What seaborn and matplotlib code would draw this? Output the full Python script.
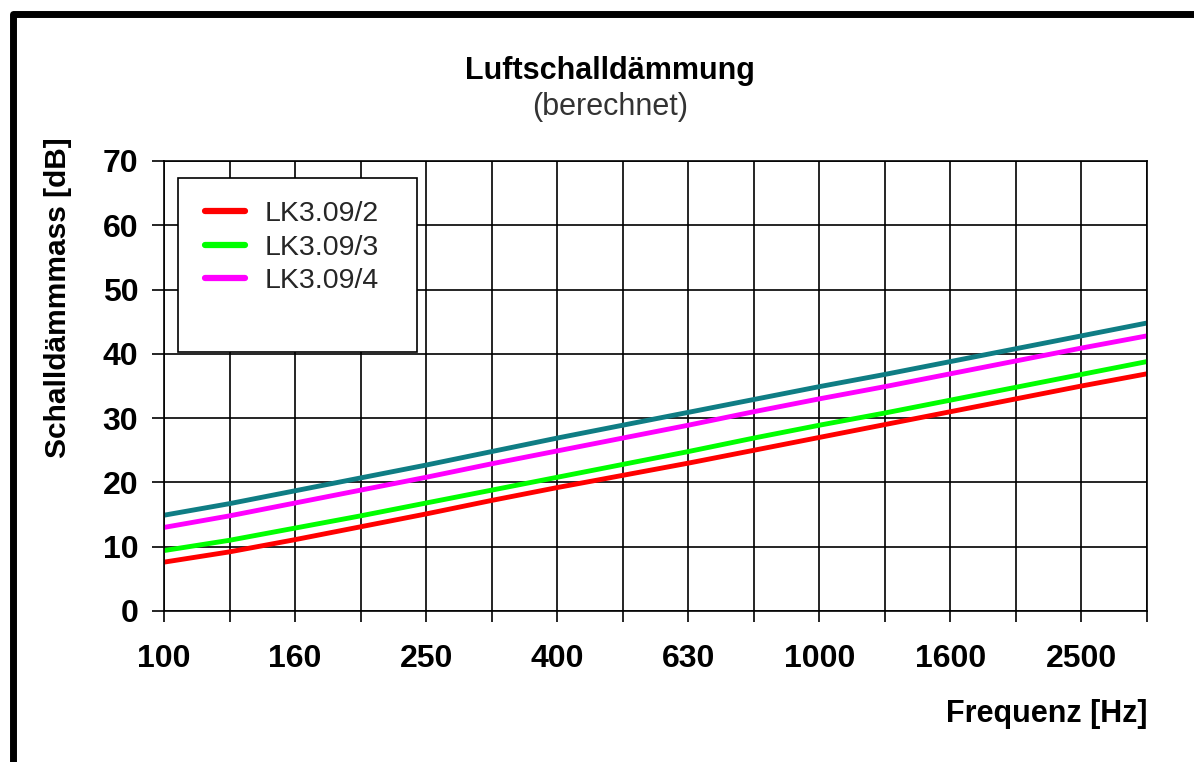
import pandas as pd
import numpy as np
import matplotlib
matplotlib.use("Agg")
import matplotlib.pyplot as plt
from matplotlib.lines import Line2D
from matplotlib.patches import Rectangle
import seaborn as sns

# Terzbaender 100 .. 3150 Hz
freq_labels = ["100", "125", "160", "200", "250", "315", "400", "500",
               "630", "800", "1000", "1250", "1600", "2000", "2500", "3150"]

# Schalldaemmmass je Terzband [dB]
r_lk2 = [7.6, 9.2, 11.1, 13.1, 15.1, 17.2, 19.2, 21.1, 23.0, 25.0, 27.0, 29.0, 31.0, 33.0, 35.0, 36.9]
r_lk3 = [9.4, 11.0, 12.9, 14.8, 16.8, 18.8, 20.8, 22.8, 24.8, 26.9, 28.9, 30.8, 32.8, 34.8, 36.8, 38.8]
r_lk4 = [13.0, 14.8, 16.8, 18.8, 20.8, 22.9, 24.9, 26.9, 28.9, 31.0, 33.0, 34.9, 36.9, 38.9, 40.9, 42.8]
r_ohne = [14.9, 16.7, 18.7, 20.7, 22.7, 24.8, 26.9, 28.9, 30.9, 32.9, 34.9, 36.8, 38.8, 40.8, 42.8, 44.8]

series_names = ["LK3.09/2", "LK3.09/3", "LK3.09/4", None]
series_values = [r_lk2, r_lk3, r_lk4, r_ohne]
series_colors = ["#ff0000", "#00ff00", "#ff00ff", "#0f7d84"]

sns.set_theme(style="white")
plt.rcParams['font.family'] = ['Liberation Sans', 'DejaVu Sans']

fig = plt.figure(figsize=(11.94, 7.62), dpi=100)
ax = fig.add_axes([164 / 1194, 1 - 611 / 762, 983 / 1194, 450 / 762])

band = np.arange(len(freq_labels))
for name, vals, col in zip(series_names, series_values, series_colors):
    df = pd.DataFrame({'band': band, 'R': vals})
    sns.lineplot(data=df, x='band', y='R', color=col, linewidth=3.5,
                 label=name, legend=False, ax=ax, zorder=2)

ax.set_xlim(0, len(freq_labels) - 1)
ax.set_ylim(0, 70)
ax.set_xticks(band)
ax.set_xticklabels([f if i % 2 == 0 else "" for i, f in enumerate(freq_labels)])
ax.set_yticks(range(0, 71, 10))
ax.set_xlabel("")
ax.set_ylabel("")

ax.grid(True, color='black', linewidth=1.2)
ax.set_axisbelow(True)
for sp in ax.spines.values():
    sp.set_color('black')
    sp.set_linewidth(1.2)

ax.tick_params(axis='both', direction='out', color='black', width=1.2,
               labelsize=23, labelcolor='black')
ax.tick_params(axis='x', length=8, pad=16, bottom=True)
ax.tick_params(axis='y', length=8.6, pad=10, left=True)
for lab in ax.get_xticklabels() + ax.get_yticklabels():
    lab.set_fontweight('bold')

# Legendenrahmen
ax.add_patch(Rectangle((0.01424, 0.5756), 0.2431, 0.3867, transform=ax.transAxes,
                       facecolor='white', edgecolor='black', linewidth=1.2, zorder=3))
handles = [Line2D([], [], color=c, linewidth=4.5) for c in series_colors[:3]]
leg = ax.legend(handles, series_names[:3], loc='upper left',
                bbox_to_anchor=(205 / 1194, 1 - 201 / 762), bbox_transform=fig.transFigure,
                frameon=False, fontsize=20.5, handlelength=1.4, handletextpad=0.7,
                labelspacing=0.27, borderpad=0, borderaxespad=0)
leg.set_zorder(4)

fig.text(610 / 1194, 1 - 79 / 762, "Luftschalldämmung", ha='center', va='baseline',
         fontsize=22, fontweight='bold', color='black')
fig.text(610 / 1194, 1 - 115 / 762, "(berechnet)", ha='center', va='baseline',
         fontsize=22, color='#333333')
fig.text(58 / 1194, 1 - 298 / 762, "Schalldämmmass [dB]", rotation=90, ha='center',
         va='center', fontsize=21.5, fontweight='bold', color='black')
fig.text(1147 / 1194, 1 - 722 / 762, "Frequenz [Hz]", ha='right', va='baseline',
         fontsize=22, fontweight='bold', color='black')

# schwarzer Rahmen links und oben
x0 = 13.3 / 1194
y0 = 1 - 13.8 / 762
fig.add_artist(Line2D([x0, x0, 1.02], [-0.02, y0, y0], transform=fig.transFigure,
                      color='black', linewidth=5, solid_joinstyle='round'))

fig.savefig("out.png", dpi=100)
